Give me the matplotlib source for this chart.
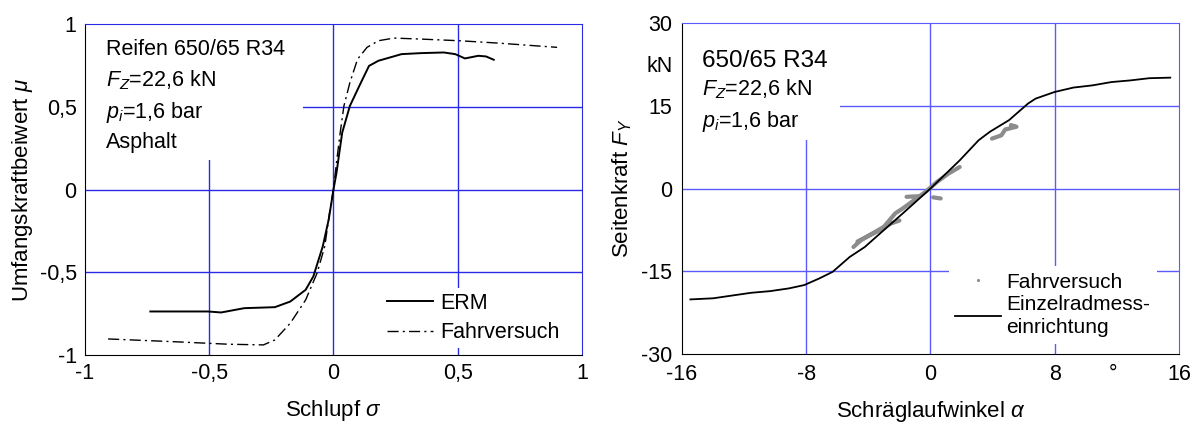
import numpy as np
import matplotlib
matplotlib.use("Agg")
import matplotlib.pyplot as plt
from matplotlib.patches import Rectangle

plt.rcParams['font.family'] = ['Liberation Sans', 'DejaVu Sans']
plt.rcParams['mathtext.fontset'] = 'custom'
plt.rcParams['mathtext.rm'] = 'Liberation Sans'
plt.rcParams['mathtext.it'] = 'Liberation Sans:italic'

# ------------------------------
# Data: left plot (Umfangskraft)
# ------------------------------
erm_slip = [-0.737, -0.506, -0.452, -0.359, -0.236, -0.174, -0.112, -0.081, -0.043, -0.019,
            0.0, 0.012, 0.035, 0.066, 0.104, 0.143, 0.181, 0.274, 0.351, 0.444, 0.49,
            0.529, 0.583, 0.614, 0.645]
erm_mu = [-0.737, -0.737, -0.743, -0.717, -0.711, -0.677, -0.606, -0.525, -0.343, -0.18,
          0.0, 0.1, 0.343, 0.505, 0.626, 0.747, 0.778, 0.818, 0.824, 0.828, 0.818,
          0.792, 0.808, 0.804, 0.784]

fv_slip = [-0.907, -0.652, -0.421, -0.282, -0.236, -0.174, -0.112, -0.066, -0.035, -0.016,
           0.0, 0.012, 0.027, 0.042, 0.066, 0.097, 0.135, 0.181, 0.243, 0.351, 0.506,
           0.66, 0.9]
fv_mu = [-0.903, -0.919, -0.935, -0.939, -0.909, -0.808, -0.667, -0.505, -0.343, -0.141,
         0.0, 0.162, 0.343, 0.505, 0.646, 0.788, 0.859, 0.899, 0.915, 0.909, 0.899,
         0.885, 0.859]

left_ticks = [-1, -0.5, 0, 0.5, 1]
left_xlabels = ['-1', '-0,5', '0', '0,5', '1']
left_ylabels = ['-1', '-0,5', '0', '0,5', '1']

# ------------------------------
# Data: right plot (Seitenkraft)
# ------------------------------
erm_alpha = [-15.46, -14.0, -12.78, -11.55, -10.33, -9.11, -8.13, -7.16, -6.3, -5.2, -4.23,
             -3.25, -1.78, 0.0, 1.88, 3.1, 3.83, 5.06, 6.28, 6.77, 7.99, 9.2, 10.43,
             11.65, 12.87, 14.09, 15.44]
erm_fy = [-20.1, -19.9, -19.4, -18.9, -18.6, -18.1, -17.5, -16.3, -15.1, -12.4, -10.6,
          -8.15, -4.5, 0.0, 5.1, 8.75, 10.3, 12.4, 15.4, 16.3, 17.5, 18.3, 18.7,
          19.3, 19.6, 20.0, 20.1]

# gray measured cloud, segments split by nan
fv_alpha = [-4.96, -4.47, -3.74, -3.0, -2.27, -1.78, -1.05, -0.32, 0.42, 1.15, 1.88, np.nan,
            -4.7, -4.0, -3.3, -2.6, -2.0, np.nan,
            3.96, 4.57, 4.81, 5.54, 5.18, np.nan,
            0.17, 0.66, np.nan, -1.54, -0.8]
fv_fy = [-10.6, -9.35, -8.15, -6.94, -4.5, -3.6, -2.1, -0.6, 1.2, 2.7, 3.9, np.nan,
         -9.6, -8.6, -7.6, -6.4, -5.8, np.nan,
         9.05, 9.65, 10.7, 11.2, 11.5, np.nan,
         -1.6, -1.8, np.nan, -1.5, -1.4]

right_xticks = [-16, -8, 0, 8, 11.75, 16]
right_xlabels = ['-16', '-8', '0', '8', '°', '16']
right_yticks = [-30, -15, 0, 15, 22.5, 30]
right_ylabels = ['-30', '-15', '0', '15', 'kN', '30']

fig = plt.figure(figsize=(11.94, 4.25), dpi=100)

# ------------------------------
# Left plot
# ------------------------------
grid_l = '#2a2ae6'
ax1 = fig.add_axes([0.0712, 0.1647, 0.4162, 0.7788])
ax1.set_xlim(-1, 1)
ax1.set_ylim(-1, 1)
for v in [-0.5, 0, 0.5]:
    ax1.axvline(v, color=grid_l, lw=1, zorder=0.5)
    ax1.axhline(v, color=grid_l, lw=1, zorder=0.5)
ax1.add_patch(Rectangle((-1, 0.178), 0.877, 0.822, facecolor='white', edgecolor='none', zorder=1))
ax1.plot(erm_slip, erm_mu, color='black', lw=1.4, label='ERM', zorder=3)
ax1.plot(fv_slip, fv_mu, color='black', lw=1, ls=(0, (8, 3, 1.5, 3)), label='Fahrversuch', zorder=3)
ax1.set_xticks(left_ticks, left_xlabels)
ax1.set_yticks(left_ticks, left_ylabels)
ax1.tick_params(length=0, labelsize=15.5, pad=6)
ax1.spines['top'].set_color(grid_l)
ax1.spines['right'].set_color(grid_l)
ax1.set_xlabel(r'Schlupf $\sigma$', fontsize=16, labelpad=10)
ax1.set_ylabel(r'Umfangskraftbeiwert $\mu$', fontsize=16, labelpad=3)
ax1.text(0.042, 0.955, 'Reifen 650/65 R34\n$F_Z$=22,6 kN\n$p_i$=1,6 bar\nAsphalt',
         transform=ax1.transAxes, fontsize=15.5, va='top', ha='left', linespacing=1.45, zorder=4)
ax1.legend(loc='lower right', bbox_to_anchor=(0.985, -0.01), fontsize=15.5, frameon=True,
           framealpha=1, edgecolor='none', fancybox=False, handlelength=2.1,
           handletextpad=0.35, labelspacing=0.4, borderpad=0.2)

# ------------------------------
# Right plot
# ------------------------------
grid_r = '#5a5aff'
ax2 = fig.add_axes([0.5712, 0.167, 0.4162, 0.7788])
ax2.set_xlim(-16, 16)
ax2.set_ylim(-30, 30)
for v in [-8, 0, 8]:
    ax2.axvline(v, color=grid_r, lw=1, zorder=0.5)
for v in [-15, 0, 15]:
    ax2.axhline(v, color=grid_r, lw=1, zorder=0.5)
ax2.add_patch(Rectangle((-16, 8.8), 10.17, 21.2, facecolor='white', edgecolor='none', zorder=1))
ax2.plot(fv_alpha, fv_fy, color='#8c8c8c', lw=3, solid_capstyle='round', zorder=2)
ax2.plot([], [], color='#8c8c8c', ls='none', marker='.', ms=2.5, label='Fahrversuch')
ax2.plot(erm_alpha, erm_fy, color='black', lw=1.3, label='Einzelradmess-\neinrichtung', zorder=3)
ax2.set_xticks(right_xticks, right_xlabels)
ax2.set_yticks(right_yticks, right_ylabels)
ax2.tick_params(length=0, labelsize=15.5, pad=7)
ax2.spines['top'].set_color(grid_r)
ax2.spines['right'].set_color(grid_r)
ax2.set_xlabel(r'Schräglaufwinkel $\alpha$', fontsize=16, labelpad=10)
ax2.set_ylabel(r'Seitenkraft $F_Y$', fontsize=16, labelpad=5)
ax2.text(0.04, 0.885, '650/65 R34', transform=ax2.transAxes, fontsize=17.5, va='center', ha='left')
ax2.text(0.04, 0.835, '$F_Z$=22,6 kN\n$p_i$=1,6 bar', transform=ax2.transAxes, fontsize=15.5,
         va='top', ha='left', linespacing=1.45)
ax2.legend(loc='lower right', bbox_to_anchor=(0.976, 0.0), fontsize=15, frameon=True,
           framealpha=1, edgecolor='none', fancybox=False, handlelength=2.2,
           handletextpad=0.25, labelspacing=0.15, borderpad=0.3)
plt.setp(ax2.get_legend().get_texts(), linespacing=1.3)

fig.savefig('out.png', dpi=100)
